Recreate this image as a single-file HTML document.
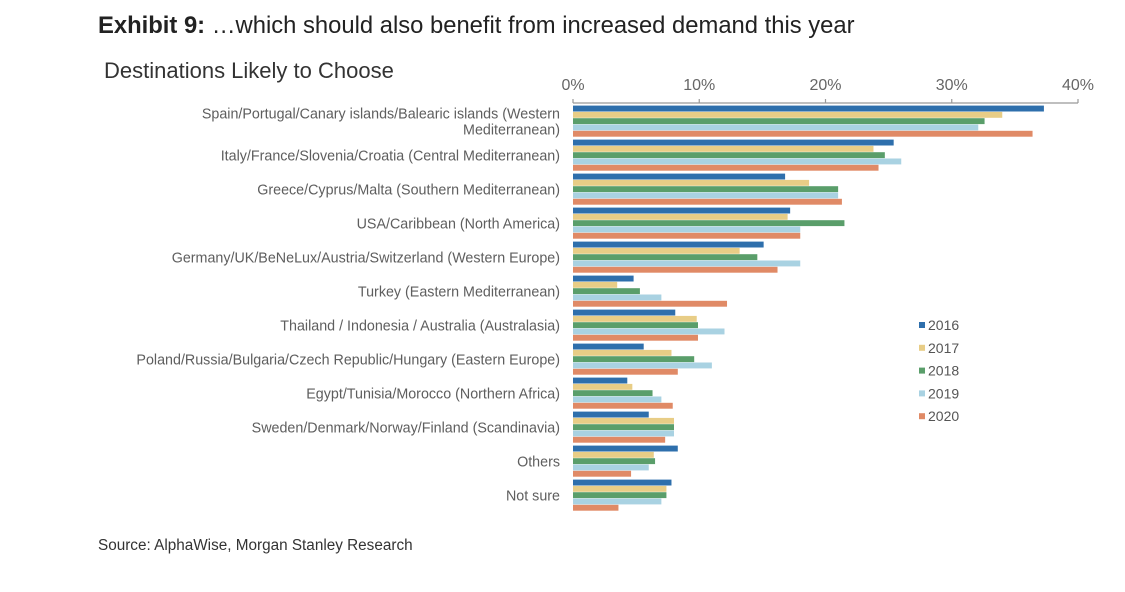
<!DOCTYPE html>
<html><head><meta charset="utf-8"><style>
body{margin:0;background:#fff;}
svg text{font-family:"Liberation Sans",Arial,sans-serif;}
</style></head><body>
<svg width="1125" height="587" viewBox="0 0 1125 587">
<text x="98" y="33" font-size="23.8" fill="#222"><tspan font-weight="bold">Exhibit 9:</tspan>  …which should also benefit from increased demand this year</text>
<text x="104" y="78" font-size="22" fill="#333">Destinations Likely to Choose</text>
<text x="98" y="550" font-size="15.3" fill="#333">Source: AlphaWise, Morgan Stanley Research</text>
<g id="axis"></g><g id="bars"></g><g id="labels"></g><g id="legend"></g>
</svg>
<script>
const categories=[["Spain/Portugal/Canary islands/Balearic islands (Western","Mediterranean)"],["Italy/France/Slovenia/Croatia (Central Mediterranean)"],["Greece/Cyprus/Malta (Southern Mediterranean)"],["USA/Caribbean (North America)"],["Germany/UK/BeNeLux/Austria/Switzerland (Western Europe)"],["Turkey (Eastern Mediterranean)"],["Thailand / Indonesia / Australia (Australasia)"],["Poland/Russia/Bulgaria/Czech Republic/Hungary (Eastern Europe)"],["Egypt/Tunisia/Morocco (Northern Africa)"],["Sweden/Denmark/Norway/Finland (Scandinavia)"],["Others"],["Not sure"]];
const seriesNames=["2016","2017","2018","2019","2020"];
const s2016=[37.3,25.4,16.8,17.2,15.1,4.8,8.1,5.6,4.3,6.0,8.3,7.8];
const s2017=[34.0,23.8,18.7,17.0,13.2,3.5,9.8,7.8,4.7,8.0,6.4,7.4];
const s2018=[32.6,24.7,21.0,21.5,14.6,5.3,9.9,9.6,6.3,8.0,6.5,7.4];
const s2019=[32.1,26.0,21.0,18.0,18.0,7.0,12.0,11.0,7.0,8.0,6.0,7.0];
const s2020=[36.4,24.2,21.3,18.0,16.2,12.2,9.9,8.3,7.9,7.3,4.6,3.6];
const ticks=[0,10,20,30,40];
const colors=["#2e6fac","#e8cd86","#5a9e6a","#a9d2e2","#e08a66"];
const series=[s2016,s2017,s2018,s2019,s2020];
const NS="http://www.w3.org/2000/svg";
const x0=573,x1=1078,yTop=103,band=34,bh=6.3;
const xs=v=>x0+(v/40)*(x1-x0);
function mk(t,a,p){const e=document.createElementNS(NS,t);for(const k in a)e.setAttribute(k,a[k]);p.appendChild(e);return e;}
const ax=document.getElementById('axis');
const al=mk('line',{x1:x0,x2:x1,y1:yTop,y2:yTop,stroke:'#999','stroke-width':1.2},ax);


ticks.forEach(t=>{
 const tk=mk('line',{x1:xs(t),x2:xs(t),y1:yTop-4,y2:yTop,stroke:'#999','stroke-width':1.2},ax);
 
 
 const tl=mk('text',{x:xs(t),y:90,'font-size':16,fill:'#666','text-anchor':'middle'},ax);
 tl.textContent=t+'%';
 
 
});
const bg=document.getElementById('bars'),lg=document.getElementById('labels');
categories.forEach((c,i)=>{
 const gy=yTop+2.6+i*band;
 series.forEach((s,j)=>{
  const r=mk('rect',{x:x0,y:gy+j*bh,width:xs(s[i])-x0,height:bh-0.4,fill:colors[j]},bg);
  
  
 });
 const cy=gy+2.5*bh;
 const t=mk('text',{x:560,'font-size':14.3,fill:'#5e5e5e','text-anchor':'end'},lg);
 
 
 if(c.length===1){t.setAttribute('y',cy+5);t.textContent=c[0];}
 else{c.forEach((ln,k)=>{const ts=mk('tspan',{x:560,y:cy-3+k*16},t);ts.textContent=ln;});}
});
const lgd=document.getElementById('legend');
seriesNames.forEach((n,j)=>{
 const y=325+j*22.8;
 const r=mk('rect',{x:919,y:y-3,width:6,height:6,fill:colors[j]},lgd);
 
 
 const t=mk('text',{x:928,y:y+5,'font-size':14,fill:'#555'},lgd);
 t.textContent=n;
 
 
});
</script>
</body></html>
